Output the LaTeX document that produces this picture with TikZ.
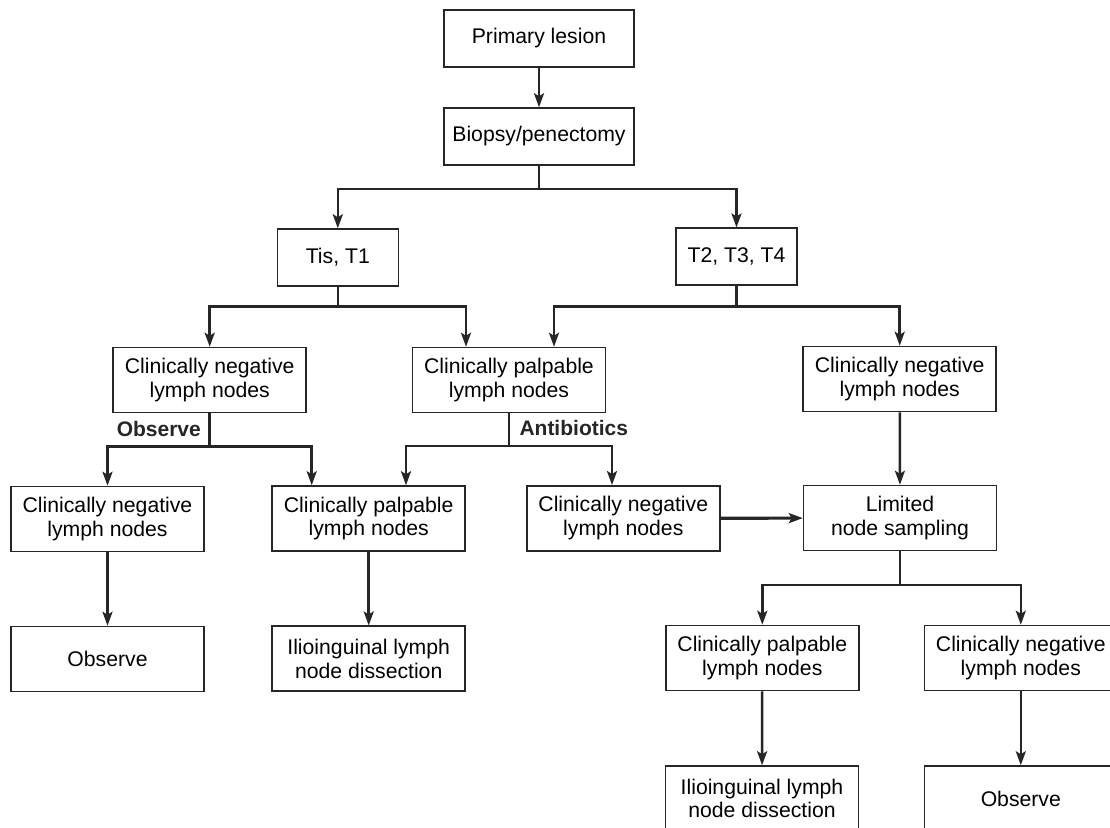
\documentclass[tikz,border=0pt]{standalone}
\usepackage{fontspec}
\setmainfont{Liberation Sans}
\usetikzlibrary{arrows.meta,calc}
\tikzset{
  box/.style={draw=black!85, line width=1.5pt, inner sep=0pt, align=center, minimum width=193pt, minimum height=65pt, font=\fontsize{21.2}{23.6}\selectfont},
  arr/.style={draw=black!85, line width=2.5pt, -{Stealth[length=14pt,width=10pt,inset=3pt]}},
  ln/.style={draw=black!85, line width=2.5pt},
  lbl/.style={font=\fontsize{21}{24}\selectfont\bfseries, inner sep=0pt, text=black!85}
}
\begin{document}
\begin{tikzpicture}[x=1pt,y=-1pt]
\useasboundingbox[fill=white] (0,0) rectangle (1110,827);
% nodes
\node[box, minimum width=190pt, minimum height=57pt] (pl) at (539,38.5) {Primary lesion};
\node[box, minimum width=190pt, minimum height=57pt] (bp) at (539,136.5) {Biopsy/penectomy};
\node[box, minimum width=121pt, minimum height=57pt] (tis) at (337.8,257.5) {Tis, T1};
\node[box, minimum width=121pt, minimum height=57pt] (t2) at (736.5,256.7) {T2, T3, T4};
\node[box] (neg1) at (209.7,380) {Clinically negative\\lymph nodes};
\node[box] (pal1) at (509,380) {Clinically palpable\\lymph nodes};
\node[box] (neg2) at (899.7,379) {Clinically negative\\lymph nodes};
\node[box] (neg3) at (107.5,519) {Clinically negative\\lymph nodes};
\node[box] (pal2) at (368.7,518.5) {Clinically palpable\\lymph nodes};
\node[box] (neg4) at (623.3,518.3) {Clinically negative\\lymph nodes};
\node[box] (lns) at (900,518) {Limited\\node sampling};
\node[box] (obs1) at (107.5,659) {Observe};
\node[box] (ili1) at (368.7,658.7) {Ilioinguinal lymph\\node dissection};
\node[box] (pal3) at (762.3,658) {Clinically palpable\\lymph nodes};
\node[box] (neg5) at (1020.8,658) {Clinically negative\\lymph nodes};
\node[box] (ili2) at (762,798.5) {Ilioinguinal lymph\\node dissection};
\node[box] (obs2) at (1020.8,798.5) {Observe};
% labels
\node[lbl, anchor=east] (lobs) at (201,429.3) {Observe};
\node[lbl, anchor=west] (lant) at (519.3,428.3) {Antibiotics};
% split points
\coordinate (s1) at (539,189);
\coordinate (s2) at (337.8,306.5);
\coordinate (s3) at (736.5,306.5);
\coordinate (s4) at (209.7,446.5);
\coordinate (s5) at (509,446);
\coordinate (s6) at (900,585);
% connectors
\draw[arr] (pl) -- (bp);
\draw[ln] (bp.south) -- (s1);
\draw[arr] (s1) -| (tis.north);
\draw[arr] (s1) -| (t2.north);
\draw[ln] (tis.south) -- (s2);
\draw[arr] (s2) -| (neg1.north);
\draw[arr] (s2) -| ([xshift=-43pt]pal1.north);
\draw[ln] (t2.south) -- (s3);
\draw[arr] (s3) -| ([xshift=45pt]pal1.north);
\draw[arr] (s3) -| (neg2.north);
\draw[ln] (neg1.south) -- (s4);
\draw[arr] (s4) -| (neg3.north);
\draw[arr] (s4) -| ([xshift=-57pt]pal2.north);
\draw[ln] (pal1.south) -- (s5);
\draw[arr] (s5) -| ([xshift=37.3pt]pal2.north);
\draw[arr] (s5) -| ([xshift=-11.3pt]neg4.north);
\draw[arr] (neg2) -- (lns);
\draw[arr, line width=3.2pt] (neg4) -- (lns);
\draw[arr] (neg3) -- (obs1);
\draw[arr] (pal2) -- (ili1);
\draw[ln] (lns.south) -- (s6);
\draw[arr] (s6) -| (pal3.north);
\draw[arr] (s6) -| (neg5.north);
\draw[arr] (pal3) -- (ili2);
\draw[arr] (neg5) -- (obs2);
\end{tikzpicture}
\end{document}
